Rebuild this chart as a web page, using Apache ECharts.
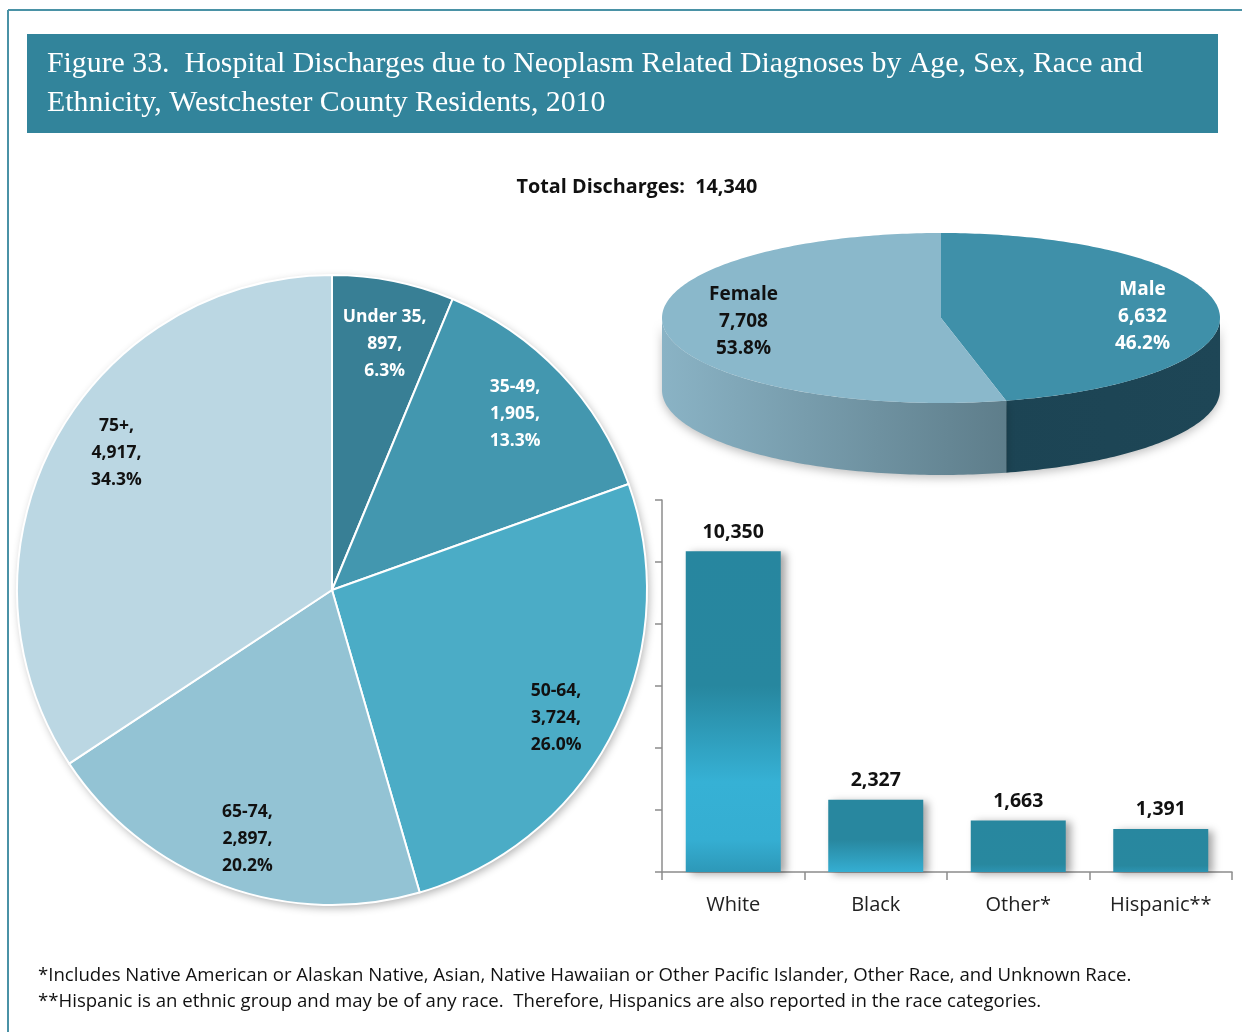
<!DOCTYPE html>
<html><head><meta charset="utf-8">
<script src="https://cdn.jsdelivr.net/npm/echarts@6/dist/echarts.min.js"></script>
<style>html,body{margin:0;padding:0;background:#fff}#c{width:1242px;height:1032px}</style>
</head><body><div id="c"></div>
<script>
// ---- data ----
const ageCategories = ['Under 35', '35-49', '50-64', '65-74', '75+'];
const ageValues = [897, 1905, 3724, 2897, 4917];
const sexCategories = ['Male', 'Female'];
const sexValues = [6632, 7708];
const raceCategories = ['White', 'Black', 'Other*', 'Hispanic**'];
const raceValues = [10350, 2327, 1663, 1391];
const titleLines = ['Figure 33.  Hospital Discharges due to Neoplasm Related Diagnoses by Age, Sex, Race and', 'Ethnicity, Westchester County Residents, 2010'];
const footnotes = ['*Includes Native American or Alaskan Native, Asian, Native Hawaiian or Other Pacific Islander, Other Race, and Unknown Race.', '**Hispanic is an ethnic group and may be of any race.  Therefore, Hispanics are also reported in the race categories.'];

const fmt = v => v.toLocaleString('en-US');
const total = ageValues.reduce((a, b) => a + b, 0);
const pct = v => (v / total * 100).toFixed(1) + '%';

// ---- styles ----
const FONT = '"Open Sans", "Noto Sans", sans-serif';
const ageColors = ['#387F95', '#4397AF', '#4BACC6', '#93C3D4', '#BBD7E3'];
const ageLabelColors = ['#fff', '#fff', '#111', '#111', '#111'];
const ageLabelOffsets = [[2, 9], [-5, 3], [-7, 10], [5, 5], [13, -14]];

// 3D pie geometry
const P3 = {cx: 941, cy: 318, rx: 279, ry: 85, depth: 72};
const sexTop = ['#3F90A9', '#8AB8CB'];
const sexSide = [
  {type: 'linear', x: 1000, y: 0, x2: 1222, y2: 0, global: true, colorStops: [{offset: 0, color: '#1C4454'}, {offset: 1, color: '#1E4656'}]},
  {type: 'linear', x: 662, y: 0, x2: 1020, y2: 0, global: true, colorStops: [{offset: 0, color: '#8AB3C5'}, {offset: 1, color: '#5C7B88'}]}
];
const sexLabelColors = ['#fff', '#111'];
const sexLabelDy = [6, -4];

function ept(t, dy) {
  const a = t * Math.PI / 180;
  return [P3.cx + P3.rx * Math.sin(a), P3.cy - P3.ry * Math.cos(a) + (dy || 0)];
}
function arcPts(t1, t2, dy) {
  const pts = [];
  const n = Math.max(2, Math.ceil(Math.abs(t2 - t1)));
  for (let i = 0; i <= n; i++) pts.push(ept(t1 + (t2 - t1) * i / n, dy));
  return pts;
}
function render3D(params, api) {
  const i = params.dataIndex;
  const sTotal = sexValues.reduce((a, b) => a + b, 0);
  let before = 0;
  for (let k = 0; k < i; k++) before += sexValues[k];
  const v = api.value(0);
  const t1 = before / sTotal * 360, t2 = (before + v) / sTotal * 360;
  const children = [];
  const a = Math.max(t1, 90), b = Math.min(t2, 270);
  if (b > a) {
    const top = arcPts(a, b, 0), bot = arcPts(b, a, P3.depth);
    children.push({type: 'polygon', shape: {points: top.concat(bot)}, style: {fill: sexSide[i], shadowBlur: 10, shadowColor: 'rgba(0,0,0,0.25)', shadowOffsetY: 3}});
  }
  const face = [[P3.cx, P3.cy]].concat(arcPts(t1, t2, 0));
  children.push({type: 'polygon', shape: {points: face}, style: {fill: sexTop[i]}});
  const mid = (t1 + t2) / 2 * Math.PI / 180;
  children.push({type: 'text', style: {
    text: sexCategories[i] + '\n' + fmt(v) + '\n' + (v / sTotal * 100).toFixed(1) + '%',
    x: P3.cx + 0.72 * P3.rx * Math.sin(mid) + 2, y: P3.cy - 0.72 * P3.ry * Math.cos(mid) + sexLabelDy[i],
    align: 'center', verticalAlign: 'middle', fontFamily: FONT, fontWeight: 'bold', fontSize: 19, lineHeight: 27, fill: sexLabelColors[i]
  }});
  return {type: 'group', children};
}

const whiteGrad = {type: 'linear', x: 0, y: 0, x2: 0, y2: 1, colorStops: [
  {offset: 0, color: '#27869F'}, {offset: 0.42, color: '#27879F'}, {offset: 0.72, color: '#36B1D5'}, {offset: 0.9, color: '#35AED2'}, {offset: 1, color: '#2D98B8'}]};
const blackGrad = {type: 'linear', x: 0, y: 0, x2: 0, y2: 1, colorStops: [
  {offset: 0, color: '#28879F'}, {offset: 0.55, color: '#28879F'}, {offset: 1, color: '#35AED2'}]};
const smallGrad = {type: 'linear', x: 0, y: 0, x2: 0, y2: 1, colorStops: [
  {offset: 0, color: '#28879F'}, {offset: 0.85, color: '#28889F'}, {offset: 1, color: '#2C94B2'}]};
const raceFills = [whiteGrad, blackGrad, smallGrad, smallGrad];

const chart = echarts.init(document.getElementById('c'), null, {renderer: 'canvas'});
chart.setOption({
  animation: false,
  backgroundColor: '#fff',
  graphic: [
    {type: 'line', shape: {x1: 8, y1: 10, x2: 1242, y2: 10}, style: {stroke: '#4A92A6', lineWidth: 2}},
    {type: 'line', shape: {x1: 8, y1: 10, x2: 8, y2: 1032}, style: {stroke: '#4A92A6', lineWidth: 2}},
    {type: 'rect', shape: {x: 27, y: 34, width: 1191, height: 99}, style: {fill: '#32849B'}},
    {type: 'text', x: 47, y: 64, style: {text: titleLines[0], fill: '#fff', fontFamily: '"Liberation Serif", serif', fontSize: 29.8, verticalAlign: 'middle'}},
    {type: 'text', x: 47, y: 103, style: {text: titleLines[1], fill: '#fff', fontFamily: '"Liberation Serif", serif', fontSize: 29.8, verticalAlign: 'middle'}},
    {type: 'text', x: 637, y: 187, style: {text: 'Total Discharges:  ' + fmt(total), fill: '#111', fontFamily: FONT, fontWeight: 'bold', fontSize: 19.8, align: 'center', verticalAlign: 'middle'}},
    {type: 'circle', shape: {cx: 332, cy: 590, r: 315}, style: {fill: '#fff', shadowBlur: 8, shadowColor: 'rgba(0,0,0,0.3)', shadowOffsetX: 2, shadowOffsetY: 3}},
    {type: 'text', x: 38, y: 976, style: {text: footnotes[0], fill: '#111', fontFamily: FONT, fontSize: 18.6, verticalAlign: 'middle'}},
    {type: 'text', x: 38, y: 1002, style: {text: footnotes[1], fill: '#111', fontFamily: FONT, fontSize: 18.6, verticalAlign: 'middle'}}
  ],
  grid: {left: 662, top: 500, width: 570, height: 372},
  xAxis: {type: 'category', data: raceCategories,
    axisLine: {lineStyle: {color: '#8C8C8C', width: 1.5}},
    axisTick: {show: true, length: 8, lineStyle: {color: '#8C8C8C', width: 1.5}},
    axisLabel: {fontFamily: FONT, fontSize: 20, color: '#222', margin: 23}},
  yAxis: {type: 'value', min: 0, max: 12000, interval: 2000,
    axisLine: {show: true, lineStyle: {color: '#8C8C8C', width: 1.5}},
    axisTick: {show: true, length: 7, lineStyle: {color: '#8C8C8C', width: 1.5}},
    axisLabel: {show: false}, splitLine: {show: false}},
  series: [
    {type: 'pie', center: [332, 590], radius: 315, startAngle: 90, clockwise: true, silent: true,
      label: {show: false}, labelLine: {show: false},
      itemStyle: {borderColor: '#fff', borderWidth: 2},
      data: ageCategories.map((n, i) => ({name: n, value: ageValues[i], itemStyle: {color: ageColors[i]}}))},
    {type: 'pie', center: [332, 590], radius: [198, 315], startAngle: 90, clockwise: true, silent: true, z: 3,
      itemStyle: {color: 'rgba(0,0,0,0)', borderWidth: 0},
      label: {show: true, position: 'inside', fontFamily: FONT, fontWeight: 'bold', fontSize: 17.5, lineHeight: 27, align: 'center'},
      labelLine: {show: false},
      data: ageCategories.map((n, i) => ({name: n, value: ageValues[i],
        label: {color: ageLabelColors[i], offset: ageLabelOffsets[i], formatter: n + ',\n' + fmt(ageValues[i]) + ',\n' + pct(ageValues[i])}}))},
    {type: 'custom', coordinateSystem: 'none', renderItem: render3D, silent: true,
      data: sexValues.map(v => [v])},
    {type: 'bar', barWidth: 95,
      data: raceValues.map((v, i) => ({value: v, itemStyle: {color: raceFills[i]}})),
      itemStyle: {shadowBlur: 8, shadowColor: 'rgba(0,0,0,0.35)', shadowOffsetX: 5, shadowOffsetY: 2},
      label: {show: true, position: 'top', distance: 9, formatter: p => fmt(p.value), fontFamily: FONT, fontWeight: 'bold', fontSize: 19.5, color: '#111'}}
  ]
});
</script></body></html>
